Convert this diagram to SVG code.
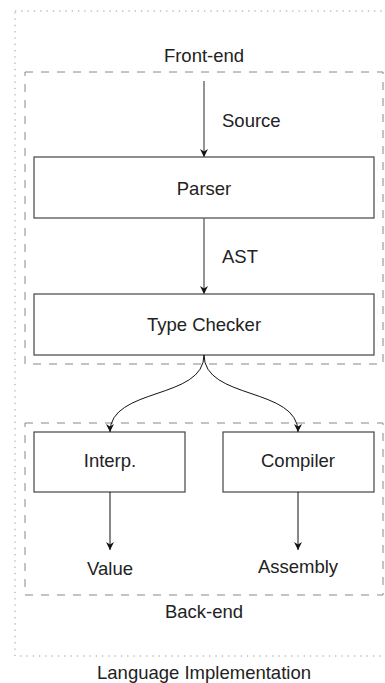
<svg xmlns="http://www.w3.org/2000/svg" width="385" height="683" viewBox="0 0 385 683">
<style>
text{font-family:"Liberation Sans",Arial,sans-serif;font-size:18.5px;fill:#222;text-anchor:middle}
.box{fill:#fff;stroke:#444;stroke-width:1.2}
.dash{fill:none;stroke:#888;stroke-width:1;stroke-dasharray:8 8}
.dot{fill:none;stroke:#999;stroke-width:1;stroke-dasharray:1.3 5}
.edge{fill:none;stroke:#111;stroke-width:1;marker-end:url(#ah)}
.edge.g{stroke:#666;stroke-width:1.4}
</style>
<defs>
<marker id="ah" markerUnits="userSpaceOnUse" markerWidth="10" markerHeight="10" viewBox="-7 -4 8 8" refX="0" refY="0" orient="auto">
<path d="M0,0 L-6.5,-3.2 L-4.5,0 L-6.5,3.2 Z" fill="#111"/>
</marker>
</defs>
<g id="language-implementation">
<rect class="dot" x="15" y="11" width="380" height="645"/>
<text x="204" y="679">Language Implementation</text>
</g>
<g id="front-end">
<rect class="dash" x="25" y="72" width="358" height="292"/>
<text x="204" y="62">Front-end</text>
</g>
<g id="back-end">
<rect class="dash" x="25" y="423" width="358" height="172"/>
<text x="204" y="618">Back-end</text>
</g>
<g id="parser">
<rect class="box" x="34" y="157" width="340" height="61"/>
<text x="204" y="195">Parser</text>
</g>
<g id="type-checker">
<rect class="box" x="34" y="294" width="340" height="61"/>
<text x="204" y="331">Type Checker</text>
</g>
<g id="interp">
<rect class="box" x="34" y="432" width="151" height="60"/>
<text x="110" y="467">Interp.</text>
</g>
<g id="compiler">
<rect class="box" x="223" y="432" width="151" height="60"/>
<text x="298" y="467">Compiler</text>
</g>
<g id="value"><text x="110" y="575">Value</text></g>
<g id="assembly"><text x="298" y="573">Assembly</text></g>
<g id="connectors">
<path class="edge g" d="M204,81 L204,157"/>
<text x="222" y="127" style="text-anchor:start">Source</text>
<path class="edge g" d="M204,218 L204,294"/>
<text x="222" y="263" style="text-anchor:start">AST</text>
<path class="edge" d="M204,355 C204,400 110,387 110,432"/>
<path class="edge" d="M204,355 C204,400 298,387 298,432"/>
<path class="edge" d="M110,492 L110,550"/>
<path class="edge" d="M298,492 L298,550"/>
</g>
</svg>
